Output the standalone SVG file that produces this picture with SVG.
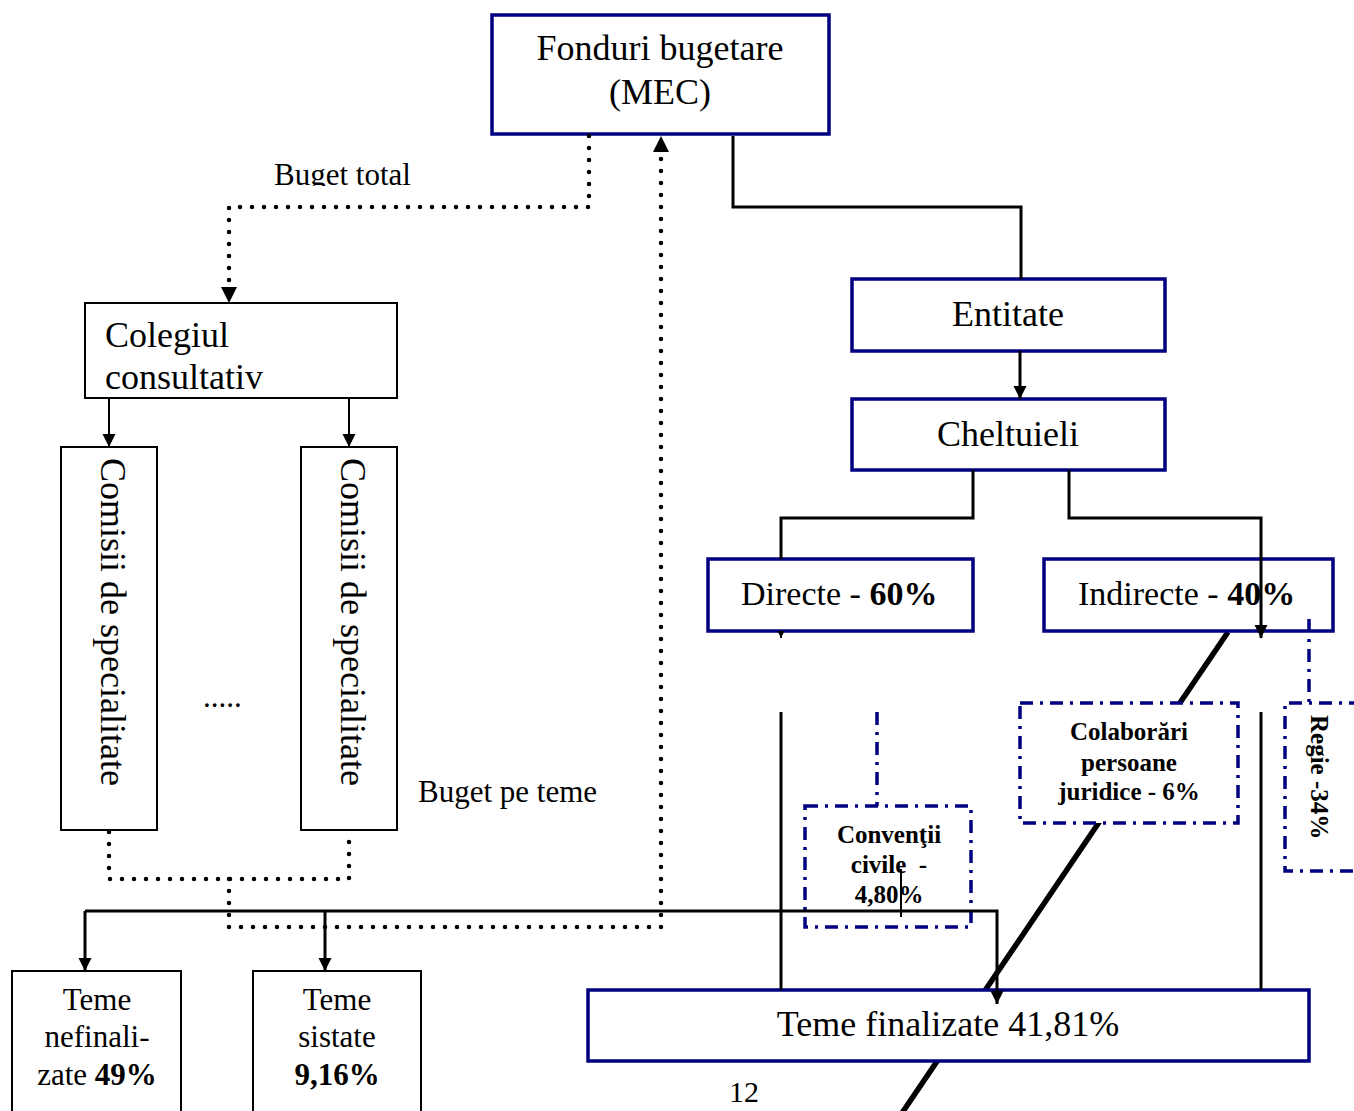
<svg xmlns="http://www.w3.org/2000/svg" width="1354" height="1111" viewBox="0 0 1354 1111">
<style>
text{font-family:"Liberation Serif","Times New Roman",serif;fill:#000}
.big{font-size:36px}
.mid{font-size:34px}
.sm{font-size:31px}
.bd{font-weight:bold}
.nbox{fill:#fff;stroke:#000080;stroke-width:3.5}
.kbox{fill:#fff;stroke:#000;stroke-width:2}
.dbox{fill:#fff;stroke:#000080;stroke-width:3.5;stroke-dasharray:13 7 3 7}
.dd{fill:none;stroke:#000080;stroke-width:3.5;stroke-dasharray:13 7 3 7}
.ln{fill:none;stroke:#000;stroke-width:3}
.thin{fill:none;stroke:#000;stroke-width:2}
.dot{fill:none;stroke:#000;stroke-width:4.5;stroke-linecap:round;stroke-dasharray:0 12}
.diag{fill:none;stroke:#000;stroke-width:5.5}
</style>
<defs>
<marker id="arr" markerUnits="userSpaceOnUse" markerWidth="14" markerHeight="14" refX="13" refY="6.5" orient="auto"><path d="M0,0 L13,6.5 L0,13 z" fill="#000"/></marker>
<marker id="arrS" markerUnits="userSpaceOnUse" markerWidth="8" markerHeight="8" refX="7" refY="3.5" orient="auto"><path d="M0,0 L7,3.5 L0,7 z" fill="#000"/></marker>
<clipPath id="clipBT"><rect x="260" y="150" width="170" height="36"/></clipPath>
<clipPath id="clipCol"><rect x="86" y="304" width="310" height="87"/></clipPath>
</defs>
<rect width="1354" height="1111" fill="#fff"/>

<g id="connectors-back">
<path class="diag" d="M1228,632 L902,1113"/>
</g>

<g id="n-fonduri">
<rect class="nbox" x="492" y="15" width="337" height="119"/>
<text class="big" x="660" y="60" text-anchor="middle">Fonduri bugetare</text>
<text class="big" x="660" y="104" text-anchor="middle">(MEC)</text>
</g>
<g id="n-entitate">
<rect class="nbox" x="852" y="279" width="313" height="72"/>
<text class="big" x="1008" y="326" text-anchor="middle">Entitate</text>
</g>
<g id="n-cheltuieli">
<rect class="nbox" x="852" y="399" width="313" height="71"/>
<text class="big" x="1008" y="446" text-anchor="middle">Cheltuieli</text>
</g>
<g id="n-directe">
<rect class="nbox" x="708" y="559" width="265" height="72"/>
<text class="mid" x="741" y="605">Directe - <tspan class="bd">60%</tspan></text>
</g>
<g id="n-indirecte">
<rect class="nbox" x="1044" y="559" width="289" height="72"/>
<text class="mid" x="1078" y="605">Indirecte - <tspan class="bd">40%</tspan></text>
</g>
<g id="n-colaborari">
<rect class="dbox" x="1020" y="703" width="218" height="120"/>
<text class="bd" font-size="25" x="1129" y="740" text-anchor="middle">Colaborări</text>
<text class="bd" font-size="25" x="1129" y="771" text-anchor="middle">persoane</text>
<text class="bd" font-size="25" x="1129" y="800" text-anchor="middle">juridice - 6%</text>
</g>
<g id="n-regie">
<path class="dd" d="M1362,703 L1285,703 L1285,871 L1362,871"/>
<text class="bd" font-size="25" transform="translate(1311,715) rotate(90)">Regie -34%</text>
</g>
<g id="n-conventii">
<rect class="dbox" x="805" y="806" width="166" height="121"/>
<text class="bd" font-size="25" x="889" y="843" text-anchor="middle">Convenţii</text>
<text class="bd" font-size="25" x="889" y="873" text-anchor="middle" xml:space="preserve">civile  -</text>
<text class="bd" font-size="25" x="889" y="903" text-anchor="middle">4,80%</text>
</g>
<g id="n-finalizate">
<rect class="nbox" x="588" y="990" width="721" height="71"/>
<text class="big" x="948" y="1036" text-anchor="middle">Teme finalizate 41,81%</text>
</g>
<g id="n-colegiul">
<rect class="kbox" x="85" y="303" width="312" height="95"/>
<g clip-path="url(#clipCol)">
<text class="big" x="105" y="347">Colegiul</text>
<text class="big" x="105" y="389">consultativ</text>
</g>
</g>
<g id="n-comisii1">
<rect class="kbox" x="61" y="447" width="96" height="383"/>
<text class="big" transform="translate(101,458) rotate(90)">Comisii de specialitate</text>
</g>
<g id="n-comisii2">
<rect class="kbox" x="301" y="447" width="96" height="383"/>
<text class="big" transform="translate(341,458) rotate(90)">Comisii de specialitate</text>
</g>
<g id="n-nefinalizate">
<path class="kbox" d="M12,1120 L12,971 L181,971 L181,1120"/>
<text class="sm" x="97" y="1010" text-anchor="middle">Teme</text>
<text class="sm" x="97" y="1047" text-anchor="middle">nefinali-</text>
<text class="sm" x="97" y="1085" text-anchor="middle">zate <tspan class="bd">49%</tspan></text>
</g>
<g id="n-sistate">
<path class="kbox" d="M253,1120 L253,971 L421,971 L421,1120"/>
<text class="sm" x="337" y="1010" text-anchor="middle">Teme</text>
<text class="sm" x="337" y="1047" text-anchor="middle">sistate</text>
<text class="sm bd" x="337" y="1085" text-anchor="middle">9,16%</text>
</g>

<g id="labels">
<text class="sm" x="274" y="185" clip-path="url(#clipBT)">Buget total</text>
<text class="sm" x="418" y="802">Buget pe teme</text>
<text class="sm" x="203" y="707">.....</text>
<text font-size="30" x="729" y="1102">12</text>
</g>

<g id="connectors">
<path class="dot" d="M589,136 L589,207 L229,207 L229,290"/>
<path d="M221,287 L237,287 L229,303 z" fill="#000"/>
<path class="dot" d="M109,832 L109,879 L349,879 L349,832"/>
<path class="dot" d="M229,879 L229,927 L661,927 L661,152"/>
<path d="M653,152 L669,152 L661,136 z" fill="#000"/>
<path class="ln" d="M733,136 L733,207 L1021,207 L1021,279"/>
<path class="ln" d="M1020,351 L1020,399" marker-end="url(#arr)"/>
<path class="ln" d="M973,470 L973,518 L781,518 L781,559"/>
<path class="ln" d="M1069,470 L1069,518 L1261,518 L1261,638" marker-end="url(#arr)"/>
<path class="thin" d="M781,631 L781,638" marker-end="url(#arrS)"/>
<path class="thin" d="M109,398 L109,447" marker-end="url(#arr)"/>
<path class="thin" d="M349,398 L349,447" marker-end="url(#arr)"/>
<path class="ln" d="M85,911 L997,911 L997,1004" marker-end="url(#arr)"/>
<path class="ln" d="M85,911 L85,971" marker-end="url(#arr)"/>
<path class="ln" d="M325,911 L325,971" marker-end="url(#arr)"/>
<path class="ln" d="M781,712 L781,990"/>
<path class="ln" d="M1261,712 L1261,990"/>
<path class="thin" d="M901,869 L901,917"/>
<path class="dd" d="M877,712 L877,806"/>
<path class="dd" d="M1309,619 L1309,703"/>
</g>
</svg>
